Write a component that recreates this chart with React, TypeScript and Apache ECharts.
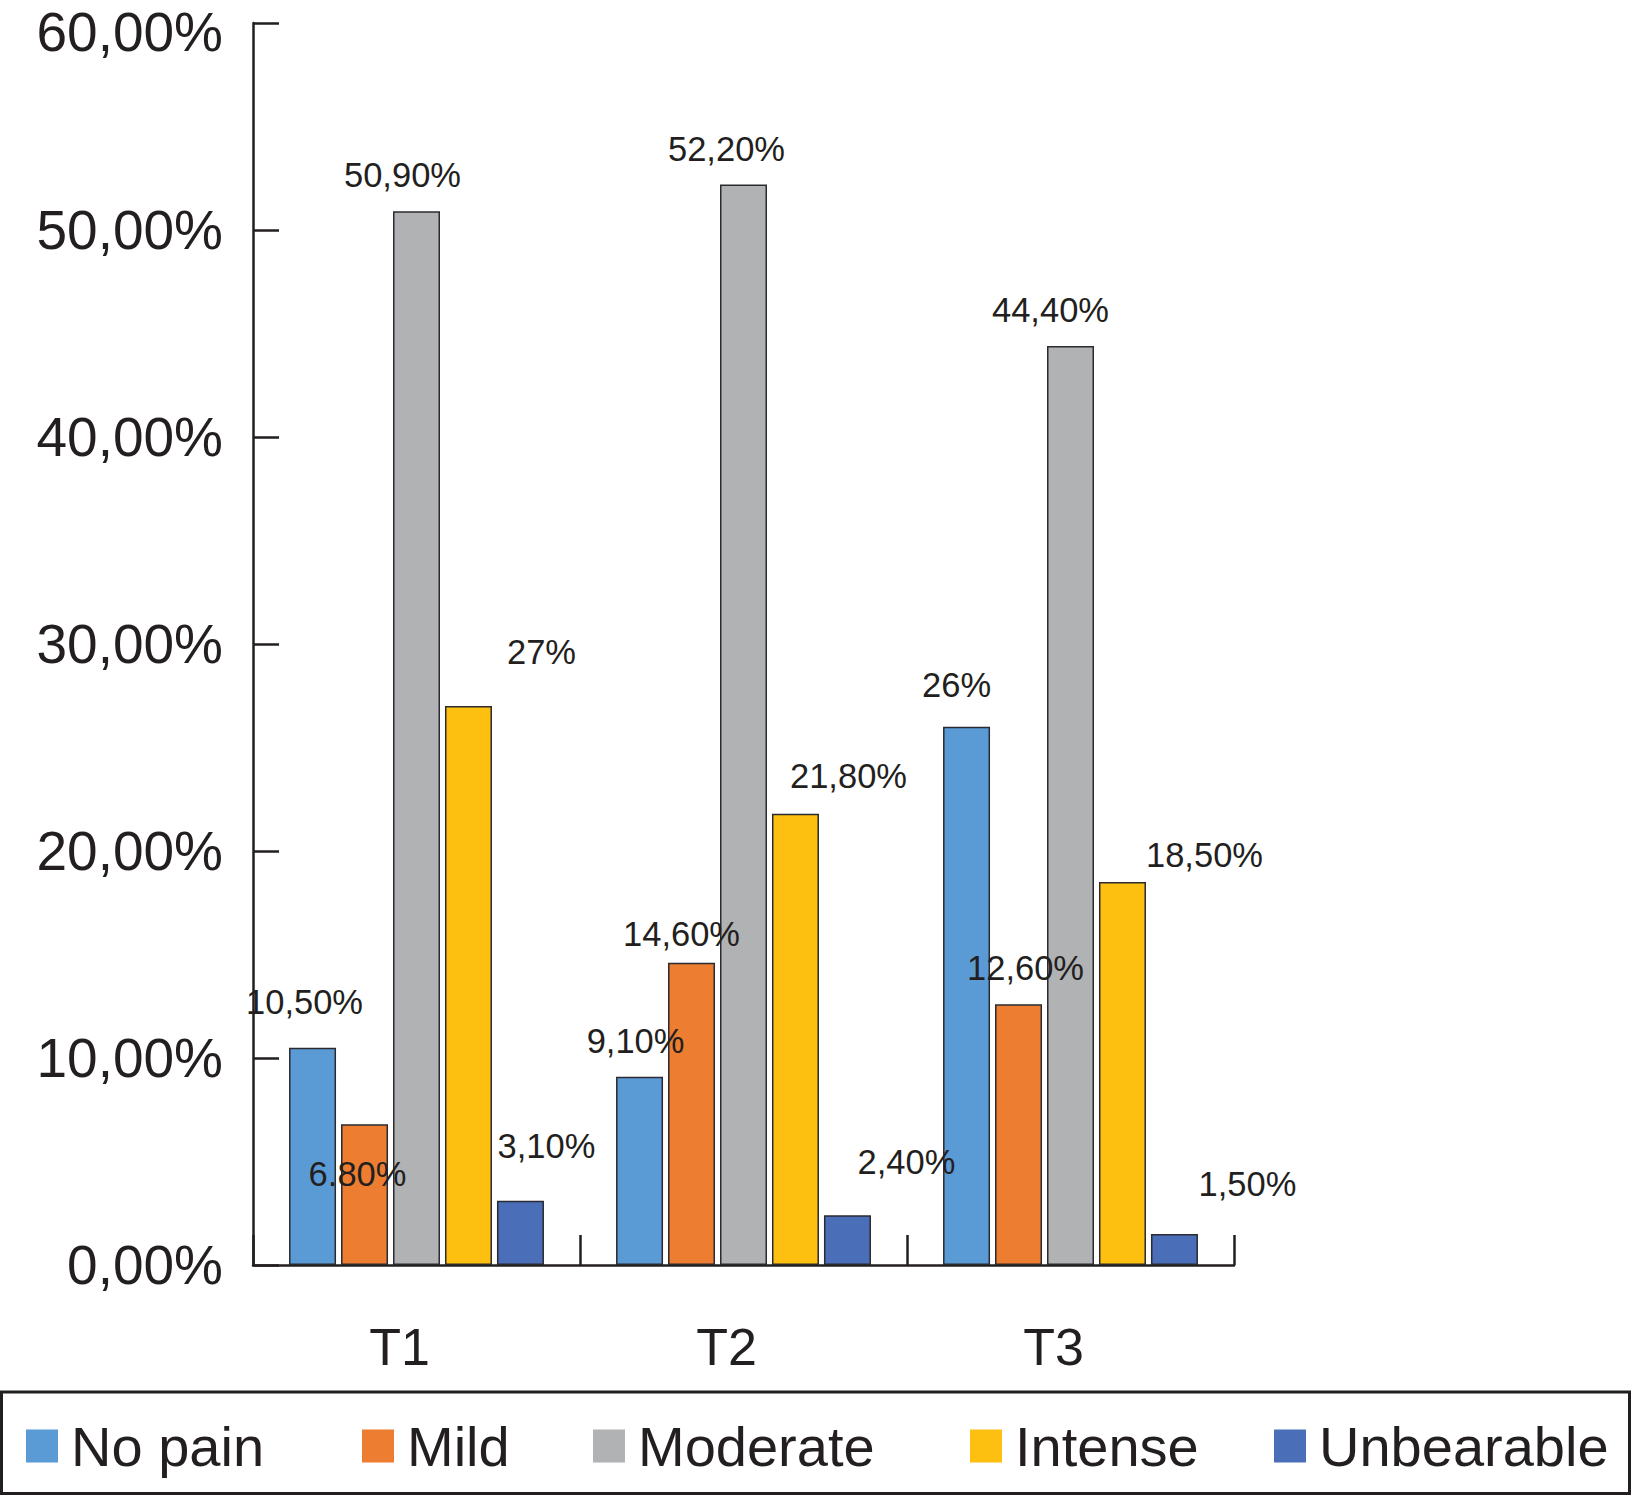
import React, { useEffect, useRef } from "react";
import * as echarts from "echarts";

const categories = ["T1", "T2", "T3"];
const seriesNames = ["No pain", "Mild", "Moderate", "Intense", "Unbearable"];
const noPain = [10.5, 9.1, 26];
const mild = [6.8, 14.6, 12.6];
const moderate = [50.9, 52.2, 44.4];
const intense = [27, 21.8, 18.5];
const unbearable = [3.1, 2.4, 1.5];
const noPainLabels = ["10,50%", "9,10%", "26%"];
const mildLabels = ["6.80%", "14,60%", "12,60%"];
const moderateLabels = ["50,90%", "52,20%", "44,40%"];
const intenseLabels = ["27%", "21,80%", "18,50%"];
const unbearableLabels = ["3,10%", "2,40%", "1,50%"];
const yTicks = [0, 10, 20, 30, 40, 50, 60];

const colors = ["#5b9bd5", "#ed7d31", "#b1b2b4", "#fdc010", "#4a6fb8"];
// label offsets (style), per series per category
const labelOffsets = [
  [[-8, -46], [-4, -36], [-10, -42]],
  [[-7, 50], [-10, -29], [7, -36]],
  [[-14, -36], [-17, -35], [-20, -36]],
  [[73, -54], [53, -38], [82, -27]],
  [[26, -55], [59, -53], [73, -50]],
];
const legendLefts = [26, 362, 593, 970, 1274];

const FONT = "'Liberation Sans', Arial, Helvetica, sans-serif";
const TEXT = "#231f20";

export default function App() {
  const ref = useRef<HTMLDivElement>(null);
  useEffect(() => {
    if (!ref.current) return;
    const chart = echarts.init(ref.current, null, { renderer: "svg" });
    const values = [noPain, mild, moderate, intense, unbearable];
    const labels = [noPainLabels, mildLabels, moderateLabels, intenseLabels, unbearableLabels];
    const yMax = yTicks[yTicks.length - 1];
    const series = seriesNames.map((name, si) => ({
      name,
      type: "bar",
      barWidth: 47,
      barGap: "10.6%",
      itemStyle: { color: colors[si], borderColor: "#2a2a30", borderWidth: 1.5 },
      data: values[si].map((v, ci) => ({
        value: v,
        label: {
          show: true,
          position: "top",
          distance: 0,
          verticalAlign: "middle",
          offset: labelOffsets[si][ci],
          formatter: labels[si][ci],
          fontSize: 34.5,
          fontFamily: FONT,
          color: TEXT,
        },
      })),
    }));
    chart.setOption({
      animation: false,
      backgroundColor: "#ffffff",
      grid: {
        left: 253,
        right: 397,
        top: 23,
        bottom: 230,
        containLabel: false,
        outerBoundsMode: "none",
      },
      xAxis: {
        type: "category",
        data: categories,
        axisLine: { lineStyle: { color: "#231f20", width: 2.5 } },
        axisTick: { show: true, inside: true, length: 30, lineStyle: { color: "#231f20", width: 2.5 } },
        axisLabel: {
          fontSize: 52,
          fontFamily: FONT,
          color: TEXT,
          margin: 56,
          padding: [0, 34, 0, 0],
        },
        splitLine: { show: false },
      },
      yAxis: {
        type: "value",
        min: yTicks[0],
        max: yMax,
        interval: 10,
        axisLine: { show: true, lineStyle: { color: "#231f20", width: 2.5 } },
        axisTick: { show: true, inside: true, length: 26, lineStyle: { color: "#231f20", width: 2.5 } },
        axisLabel: {
          fontSize: 55,
          fontFamily: FONT,
          color: TEXT,
          margin: 30,
          formatter: (v: number) => {
            const s = v.toFixed(2).replace(".", ",") + "%";
            return v === yMax ? "{top|" + s + "}" : s;
          },
          rich: {
            top: { fontSize: 55, fontFamily: FONT, color: TEXT, lineHeight: 30, padding: [18, 0, 0, 0] },
          },
        },
        splitLine: { show: false },
      },
      legend: seriesNames.map((name, i) => ({
        data: [name],
        left: legendLefts[i],
        top: 1416,
        padding: 0,
        itemWidth: 32,
        itemHeight: 33,
        icon: "rect",
        itemStyle: { borderWidth: 0 },
        textStyle: { fontSize: 56, fontFamily: FONT, color: TEXT, lineHeight: 60, padding: [0, 0, 0, 8] },
        selectedMode: false,
      })),
      graphic: [
        {
          type: "rect",
          shape: { x: 1.5, y: 1392, width: 1628, height: 101.5 },
          style: { fill: "none", stroke: "#231f20", lineWidth: 3 },
          silent: true,
        },
      ],
      series,
    });
    return () => chart.dispose();
  }, []);
  return (
    <div
      ref={ref}
      style={{ position: "absolute", left: 0, top: 0, width: 1631, height: 1495 }}
    />
  );
}
